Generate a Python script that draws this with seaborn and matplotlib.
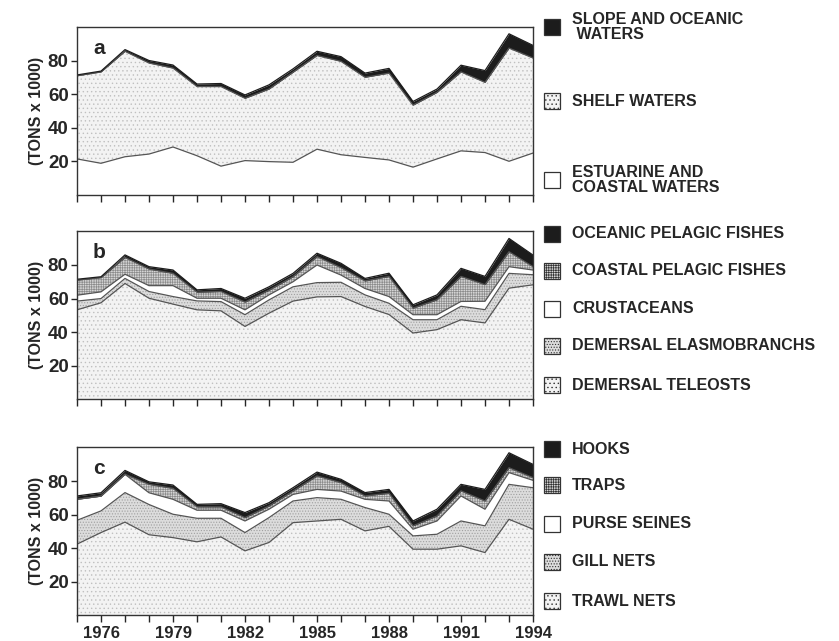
import numpy as np
import matplotlib
matplotlib.use("Agg")
import matplotlib.pyplot as plt
from matplotlib.patches import Rectangle
import seaborn as sns

# --- data (thousand tons) ---
years = list(range(1975, 1995))
year_labels = [1976, 1979, 1982, 1985, 1988, 1991, 1994]

# panel a: by habitat
estuarine = [21.4, 18.8, 22.7, 24.3, 28.5, 23.3, 17.1, 20.4, 19.8, 19.4,
             27.2, 23.9, 22.3, 20.8, 16.5, 21.4, 26.2, 25.2, 20.0, 24.9]
shelf = [49.5, 54.4, 62.8, 54.2, 47.0, 41.2, 47.4, 37.1, 43.2, 53.6,
         55.8, 55.6, 47.7, 51.7, 36.9, 39.6, 47.0, 41.8, 67.4, 56.6]
slope = [0.5, 0.5, 1.0, 1.5, 1.8, 1.5, 1.8, 2.0, 2.5, 2.0,
         2.5, 2.8, 2.5, 2.8, 2.2, 2.0, 4.0, 7.0, 8.5, 7.5]

# panel b: by species group
teleosts = [53.3, 57.5, 69.0, 60.2, 56.7, 53.3, 52.7, 43.4, 51.3, 58.5,
            61.0, 61.2, 55.3, 50.5, 39.5, 41.5, 47.4, 45.5, 66.2, 68.2]
elasmobranchs = [5.2, 2.5, 3.0, 4.0, 4.5, 5.3, 5.5, 7.0, 7.9, 8.5,
                 8.5, 8.5, 6.9, 6.7, 7.9, 5.9, 8.0, 7.9, 8.8, 6.0]
crustaceans = [3.5, 4.0, 2.5, 3.5, 6.5, 1.6, 2.0, 2.9, 3.0, 3.0,
               10.5, 4.3, 3.8, 4.0, 3.0, 3.0, 2.9, 5.0, 4.0, 2.8]
coastal_pelagic = [9.0, 8.5, 10.0, 9.9, 7.3, 3.6, 4.0, 4.6, 2.8, 3.0,
                   5.0, 4.4, 4.5, 12.0, 3.9, 8.9, 14.9, 9.9, 8.9, 2.0]
oceanic_pelagic = [0.5, 0.5, 1.5, 1.4, 2.0, 1.4, 1.8, 2.3, 2.0, 2.0,
                   2.0, 2.6, 1.5, 1.9, 2.0, 2.9, 4.8, 4.9, 7.9, 6.9]

# panel c: by gear
trawl = [42.4, 49.3, 55.5, 48.0, 46.3, 43.8, 46.7, 38.4, 43.4, 55.2,
         56.2, 57.2, 50.3, 53.0, 39.4, 39.4, 41.4, 37.4, 57.2, 51.3]
gill = [14.2, 12.9, 17.6, 18.0, 13.9, 14.0, 11.1, 10.9, 14.8, 12.9,
        13.9, 11.9, 13.9, 7.2, 7.9, 8.9, 14.8, 15.9, 20.8, 24.7]
purse = [12.5, 8.8, 10.9, 7.0, 8.9, 4.8, 4.8, 6.9, 5.0, 3.9,
         4.9, 4.9, 4.9, 7.9, 4.0, 7.9, 14.9, 9.9, 7.0, 4.4]
traps = [0.0, 0.0, 0.0, 5.0, 6.5, 2.0, 2.0, 2.0, 1.9, 2.0,
         8.0, 5.0, 2.0, 4.6, 2.0, 3.0, 3.0, 4.9, 2.9, 1.6]
hooks = [2.0, 2.0, 2.3, 1.5, 2.0, 1.5, 1.9, 3.0, 2.0, 2.0,
         2.3, 2.0, 2.0, 2.3, 2.9, 4.0, 3.9, 6.9, 8.9, 7.9]

# --- fill styles ---
STY = {
    "black": dict(facecolor="#1c1c1c", hatch=None, hc="#1c1c1c"),
    "cross": dict(facecolor="#d6d6d6", hatch="+++++++", hc="#8c8c8c"),
    "white": dict(facecolor="white", hatch=None, hc="white"),
    "mid": dict(facecolor="#dcdcdc", hatch="......", hc="#a0a0a0"),
    "light": dict(facecolor="#f3f3f3", hatch="....", hc="#c0c0c0"),
}

sns.set_theme(style="ticks")
plt.rcParams["font.family"] = ["Liberation Sans", "DejaVu Sans"]
plt.rcParams["font.weight"] = "bold"
plt.rcParams["hatch.linewidth"] = 0.5

fig = plt.figure(figsize=(8.39, 6.41), dpi=100)
W, H = 839.0, 641.0


def panel(rect, letter, layers, legend, show_years):
    ax = fig.add_axes(rect)
    bottom = np.zeros(len(years))
    for vals, key in layers:
        top = bottom + np.array(vals)
        s = STY[key]
        ax.fill_between(years, bottom, top, facecolor=s["facecolor"],
                        hatch=s["hatch"], edgecolor=s["hc"], linewidth=0)
        bottom = top
    # boundary lines
    bottom = np.zeros(len(years))
    for vals, key in layers:
        bottom = bottom + np.array(vals)
        col = "#1c1c1c" if key == "black" else "#555555"
        sns.lineplot(x=years, y=bottom, ax=ax, color=col, linewidth=0.9)
    ax.set_xlim(1975, 1994)
    ax.set_ylim(0, 100)
    ax.set_yticks([20, 40, 60, 80])
    ax.set_xticks(year_labels)
    ax.set_xticks(years, minor=True)
    if show_years:
        ax.set_xticklabels([str(y) for y in year_labels])
    else:
        ax.set_xticklabels([])
    ax.tick_params(axis="x", which="both", direction="out", length=5,
                   width=1, labelsize=12, pad=3)
    ax.tick_params(axis="y", direction="out", length=4, width=1,
                   labelsize=13.5, pad=2)
    for t in ax.get_yticklabels() + ax.get_xticklabels():
        t.set_fontweight("bold")
    for sp in ax.spines.values():
        sp.set_visible(True)
        sp.set_linewidth(1.0)
        sp.set_color("#333333")
    ax.set_ylabel("(TONS x 1000)", fontsize=11.5, fontweight="bold",
                  labelpad=3)
    ax.text(0.035, 0.93, letter, transform=ax.transAxes, fontsize=15,
            fontweight="bold", va="top", ha="left")
    # legend boxes at the right
    for (text, key), yc in legend:
        s = STY[key]
        sq = 16.0
        fig.add_artist(Rectangle((544 / W, 1 - (yc + sq / 2) / H),
                                 sq / W, sq / H, facecolor=s["facecolor"],
                                 hatch=s["hatch"], edgecolor="#333333",
                                 linewidth=0.9, transform=fig.transFigure))
        fig.text(572 / W, 1 - yc / H, text, fontsize=11.5,
                 fontweight="bold", va="center", ha="left",
                 linespacing=1.05)
    return ax


left, width, height = 77 / W, 456 / W, 0.262

panel([left, 0.696, width, height], "a",
      [(estuarine, "white"), (shelf, "light"), (slope, "black")],
      [(("SLOPE AND OCEANIC\n WATERS", "black"), 27),
       (("SHELF WATERS", "light"), 101),
       (("ESTUARINE AND\nCOASTAL WATERS", "white"), 180)],
      False)

panel([left, 0.377, width, height], "b",
      [(teleosts, "light"), (elasmobranchs, "mid"), (crustaceans, "white"),
       (coastal_pelagic, "cross"), (oceanic_pelagic, "black")],
      [(("OCEANIC PELAGIC FISHES", "black"), 234),
       (("COASTAL PELAGIC FISHES", "cross"), 271),
       (("CRUSTACEANS", "white"), 309),
       (("DEMERSAL ELASMOBRANCHS", "mid"), 346),
       (("DEMERSAL TELEOSTS", "light"), 385)],
      False)

panel([left, 0.040, width, height], "c",
      [(trawl, "light"), (gill, "mid"), (purse, "white"),
       (traps, "cross"), (hooks, "black")],
      [(("HOOKS", "black"), 449),
       (("TRAPS", "cross"), 485),
       (("PURSE SEINES", "white"), 524),
       (("GILL NETS", "mid"), 562),
       (("TRAWL NETS", "light"), 601)],
      True)

fig.savefig("out.png", dpi=100)
